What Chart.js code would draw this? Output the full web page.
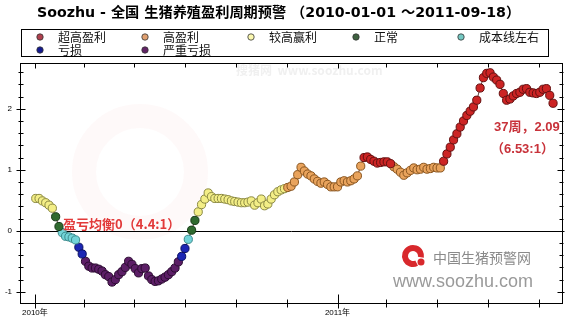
<!DOCTYPE html>
<html><head><meta charset="utf-8">
<script src="https://cdn.jsdelivr.net/npm/chart.js@4.4.1/dist/chart.umd.min.js"></script>
<style>html,body{margin:0;padding:0;background:#fff;}#wrap{width:580px;height:320px;position:relative;}</style>
</head><body><div id="wrap"><canvas id="c" width="580" height="320"></canvas></div>
<script>
const TITLE = 'Soozhu - 全国 生猪养殖盈利周期预警 （2010-01-01 ～2011-09-18）';
const categories = ['超高盈利','高盈利','较高赢利','正常','成本线左右','亏损','严重亏损'];
const categoryLower = [1.1, 0.7, 0.3, 0, -0.2, -0.45, -Infinity];
const fillColors   = ['#cc2424','#e9a35c','#f3ee86','#2f6a2f','#72d4d8','#1c26b4','#5c1e66'];
const borderColors = ['#641010','#8a5620','#8c8a44','#173a17','#3a8a8c','#0b1062','#2c0c32'];
const legendColors = ['#b0404e','#e0a070','#fbf8b0','#3f6240','#74c8c2','#141a90','#622466'];
// days since 2010-01-01 for the first point, and spacing between points
const firstDay = 1;
const dayStep = 4;
const values = [
 0.53,0.53,0.49,0.46,0.42,0.37,0.23,0.07,-0.03,-0.09,
 -0.10,-0.12,-0.15,-0.27,-0.38,-0.50,-0.58,-0.61,-0.61,-0.63,
 -0.66,-0.72,-0.75,-0.84,-0.80,-0.72,-0.67,-0.60,-0.50,-0.55,
 -0.62,-0.69,-0.62,-0.61,-0.74,-0.80,-0.83,-0.82,-0.79,-0.76,
 -0.72,-0.67,-0.61,-0.51,-0.42,-0.29,-0.14,0.01,0.17,0.31,
 0.43,0.52,0.62,0.56,0.53,0.53,0.53,0.52,0.51,0.49,
 0.48,0.47,0.46,0.46,0.47,0.49,0.42,0.46,0.52,0.41,
 0.44,0.52,0.59,0.64,0.67,0.69,0.71,0.73,0.80,0.92,
 1.04,0.98,0.93,0.90,0.85,0.81,0.78,0.80,0.76,0.72,
 0.72,0.72,0.80,0.82,0.80,0.82,0.85,0.90,1.06,1.20,
 1.21,1.17,1.14,1.11,1.12,1.13,1.13,1.10,1.05,1.01,
 0.96,0.91,0.95,0.99,1.03,1.00,1.01,1.04,1.01,1.02,
 1.04,1.03,1.03,1.14,1.26,1.37,1.49,1.59,1.70,1.80,
 1.89,1.96,2.03,2.14,2.34,2.51,2.58,2.59,2.52,2.47,
 2.40,2.25,2.14,2.16,2.21,2.25,2.27,2.32,2.33,2.27,
 2.26,2.25,2.27,2.32,2.33,2.22,2.09
];
const yTicks = [-1, 0, 1, 2];
const monthTicks = [0,59,120,181,243,304,365,424,485,546,608];
const yearLabels = {0:'2010年', 365:'2011年'};
const breakEvenNote = '盈亏均衡0（4.4:1）';
const lastNote1 = '37周，2.09';
const lastNote2 = '（6.53:1）';

const pts = values.map((v,i)=>({x:firstDay + i*dayStep, y:v}));
const band = v => categoryLower.findIndex(lb => v >= lb);

const datasets = categories.map((name,k)=>({
  type:'scatter', label:name,
  data: pts.filter(p=>band(p.y)===k),
  backgroundColor: fillColors[k], borderColor: borderColors[k],
  pointRadius:4.1, pointHoverRadius:4.1, borderWidth:1, order:1
}));
datasets.push({type:'line', label:'trace', data:pts, borderColor:'rgba(70,30,30,0.85)',
  borderWidth:1, pointRadius:0, fill:false, tension:0, order:5});

const decor = {
  id:'decor',
  beforeDraw(chart){
    const ctx = chart.ctx; ctx.save();
    ctx.fillStyle = '#fff'; ctx.fillRect(0,0,chart.width,chart.height);
    // faint watermarks
    ctx.strokeStyle = 'rgba(235,140,140,0.05)'; ctx.lineWidth = 24;
    ctx.beginPath(); ctx.arc(140,172,56,0,Math.PI*2); ctx.stroke();
    ctx.fillStyle = '#f0f0f0'; ctx.font = 'bold 12px "Noto Sans CJK SC"'; ctx.textBaseline='middle';
    ctx.fillText('搜猪网  www.soozhu.com', 236, 70);
    ctx.restore();
  },
  beforeDatasetsDraw(chart){
    const ctx = chart.ctx, a = chart.chartArea, ys = chart.scales.y;
    ctx.save();
    // logo watermark
    ctx.strokeStyle = '#d8282c'; ctx.lineWidth = 6;
    ctx.beginPath(); ctx.arc(413,256,8,0.35*Math.PI,2.05*Math.PI); ctx.stroke();
    ctx.fillStyle = '#d8282c'; ctx.beginPath(); ctx.arc(421,262,3.5,0,Math.PI*2); ctx.fill();
    ctx.fillStyle = '#8a8a8a'; ctx.font = '14px "Noto Sans CJK SC"'; ctx.textBaseline = 'alphabetic';
    ctx.fillText('中国生猪预警网', 433, 263);
    ctx.fillStyle = '#9a9a9a'; ctx.font = '18px "Liberation Sans"';
    ctx.fillText('www.soozhu.com', 393, 287);
    // zero line
    const y0 = Math.round(ys.getPixelForValue(0)) + 0.5;
    ctx.strokeStyle = '#000'; ctx.lineWidth = 1;
    ctx.beginPath(); ctx.moveTo(a.left, y0); ctx.lineTo(a.right, y0); ctx.stroke();
    ctx.restore();
  },
  afterDraw(chart){
    const ctx = chart.ctx, a = chart.chartArea, xs = chart.scales.x, ys = chart.scales.y;
    ctx.save();
    ctx.strokeStyle = '#000'; ctx.lineWidth = 1;
    const L = Math.round(a.left)+0.5, R = Math.round(a.right)-0.5, T = Math.round(a.top)+0.5, B = Math.round(a.bottom)-0.5;
    ctx.strokeRect(L, T, R-L, B-T);
    ctx.beginPath();
    for (let k=-6; k<=13; k++){
      const v = k*0.2; if (v < ys.min || v > ys.max) continue;
      const y = Math.round(ys.getPixelForValue(v))+0.5;
      const major = Math.abs(v - Math.round(v)) < 1e-6;
      ctx.moveTo(L - (major?4:2), y); ctx.lineTo(L + (major?5:3), y);
      ctx.moveTo(R - (major?5:3), y); ctx.lineTo(R + (major?2:1), y);
    }
    monthTicks.forEach(d=>{
      const x = Math.round(xs.getPixelForValue(d))+0.5;
      const major = d in yearLabels;
      ctx.moveTo(x, B - (major?9:4)); ctx.lineTo(x, B + (major?5:4));
      ctx.moveTo(x, T); ctx.lineTo(x, T + (major?5:4));
    });
    ctx.stroke();
    // title
    let fs = 15;
    ctx.font = `bold ${fs}px "DejaVu Sans","Noto Sans CJK SC"`;
    const w = ctx.measureText(TITLE).width;
    fs = fs * 483 / w;
    ctx.font = `bold ${fs.toFixed(2)}px "DejaVu Sans","Noto Sans CJK SC"`;
    ctx.fillStyle = '#000'; ctx.textBaseline = 'middle'; ctx.textAlign = 'left';
    ctx.fillText(TITLE, 37, 13);
    // legend box
    ctx.strokeRect(21.5, 29.5, 527, 27);
    ctx.font = '12px "Noto Sans CJK SC"';
    const colX = [40, 145, 251, 356, 461];
    categories.forEach((name,k)=>{
      const cx = colX[k % 5], cy = k < 5 ? 37 : 50;
      ctx.beginPath(); ctx.arc(cx, cy, 3.2, 0, Math.PI*2);
      ctx.fillStyle = legendColors[k]; ctx.fill();
      ctx.strokeStyle = '#333'; ctx.lineWidth = 0.8; ctx.stroke();
      ctx.fillStyle = '#111'; ctx.fillText(name, cx + 18, cy);
    });
    // notes
    ctx.fillStyle = '#e23a3a'; ctx.font = 'bold 13px "Noto Sans CJK SC"'; ctx.textBaseline = 'alphabetic';
    ctx.fillText(breakEvenNote, xs.getPixelForValue(34), ys.getPixelForValue(0) - 2);
    const last = pts[pts.length-1];
    const lx = xs.getPixelForValue(last.x), ly = ys.getPixelForValue(last.y);
    ctx.fillStyle = '#c8323a'; ctx.font = 'bold 13px "Liberation Sans","Noto Sans CJK SC"';
    ctx.fillText(lastNote1, lx - 59, ly + 28);
    ctx.fillText(lastNote2, lx - 62, ly + 50);
    ctx.restore();
  }
};

new Chart(document.getElementById('c'), {
  data:{datasets},
  options:{
    responsive:false, animation:false, devicePixelRatio:1,
    layout:{padding:{top:63, right:17, left:0, bottom:0}},
    plugins:{legend:{display:false}, title:{display:false}, tooltip:{enabled:false}},
    scales:{
      x:{type:'linear', min:-18, max:637,
        afterBuildTicks: s => { s.ticks = monthTicks.map(v=>({value:v})); },
        afterFit: s => { s.height = 16; },
        ticks:{autoSkip:false, maxRotation:0, padding:4, color:'#000',
          font:{size:8, family:'"Liberation Sans","Noto Sans CJK SC"'},
          callback: v => yearLabels[v] || ''},
        grid:{display:false, drawTicks:false}, border:{display:false}},
      y:{type:'linear', min:-1.2, max:2.75,
        afterBuildTicks: s => { s.ticks = yTicks.map(v=>({value:v})); },
        afterFit: s => { s.width = 20; },
        ticks:{padding:8, color:'#000', font:{size:8, family:'"Liberation Sans"'},
          callback: v => String(v)},
        grid:{display:false, drawTicks:false}, border:{display:false}}
    }
  },
  plugins:[decor]
});
</script></body></html>
